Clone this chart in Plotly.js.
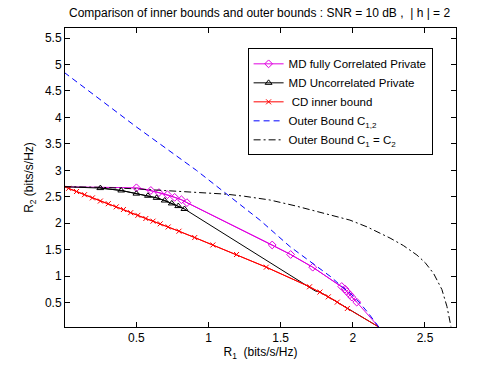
<!DOCTYPE html>
<html>
<head>
<meta charset="utf-8">
<script src="https://cdn.plot.ly/plotly-3.0.1.min.js"></script>
<style>
  html, body { margin: 0; padding: 0; background: #fff; }
  #chart { width: 504px; height: 369px; }
</style>
</head>
<body>
<div id="chart"></div>
<script>
// MD fully correlated private (magenta diamonds)
var magStartX = [0], magStartY = [2.69];
var magX = [0.5, 0.6, 0.656, 0.715, 0.765, 0.812, 0.85, 1.441, 1.569, 1.722, 1.923, 1.946, 1.958, 1.98, 1.993, 2.027];
var magY = [2.67, 2.62, 2.58, 2.54, 2.49, 2.445, 2.39, 1.59, 1.41, 1.17, 0.805, 0.756, 0.71, 0.65, 0.605, 0.51];
var magEndX = [2.18], magEndY = [0.04];

// MD uncorrelated private (black triangles)
var blkStartX = [0], blkStartY = [2.69];
var blkX = [0.25, 0.395, 0.5, 0.58, 0.64, 0.696, 0.745, 0.79, 0.833];
var blkY = [2.665, 2.62, 2.56, 2.52, 2.48, 2.43, 2.375, 2.325, 2.27];
var blkEndX = [1.74, 1.772, 1.83, 1.892, 1.962, 2.18];
var blkEndY = [0.72, 0.70, 0.61, 0.51, 0.39, 0.04];

// CD inner bound (red crosses)
var redStartX = [0], redStartY = [2.69];
var redX = [0.03, 0.085, 0.14, 0.195, 0.25, 0.305, 0.36, 0.41, 0.46, 0.51, 0.565, 0.615, 0.665, 0.72, 0.795, 0.904, 1.03, 1.194, 1.40, 1.70, 1.772, 1.83, 1.892, 1.962];
var redY = [2.66, 2.60, 2.54, 2.48, 2.42, 2.37, 2.31, 2.26, 2.20, 2.15, 2.09, 2.04, 1.99, 1.93, 1.85, 1.73, 1.59, 1.41, 1.17, 0.80, 0.70, 0.61, 0.51, 0.39];
var redEndX = [2.18], redEndY = [0.04];

// Outer bound C_{1,2} (blue dashed)
var c12X = [0, 0.5, 0.916, 1.124, 1.356, 1.564, 1.726, 1.847, 1.923, 1.981, 2.05, 2.108, 2.18];
var c12Y = [4.85, 3.82, 3.0, 2.55, 2.06, 1.56, 1.226, 0.99, 0.805, 0.68, 0.49, 0.30, 0.04];

// Outer bound C1 = C2 (black dash-dot)
var c1X = [0, 0.25, 0.5, 0.75, 1.0, 1.124, 1.25, 1.425, 1.6, 1.7, 1.85, 1.98, 2.1, 2.258, 2.35, 2.444, 2.5, 2.56, 2.617, 2.652, 2.675, 2.68];
var c1Y = [2.69, 2.68, 2.65, 2.61, 2.57, 2.55, 2.51, 2.44, 2.33, 2.26, 2.16, 2.06, 1.93, 1.72, 1.58, 1.40, 1.26, 1.05, 0.75, 0.43, 0.12, 0.05];

var MAG = '#e000e0', BLK = '#000000', RED = '#ff0000', BLU = '#0000ff';

function full(a, b, c) { return a.concat(b, c); }

var traces = [
  { x: full(magStartX, magX, magEndX), y: full(magStartY, magY, magEndY), mode: 'lines',
    line: { color: MAG, width: 1 }, showlegend: false, hoverinfo: 'skip' },
  { x: magX, y: magY, mode: 'lines+markers', name: 'MD fully Correlated Private',
    line: { color: MAG, width: 1 },
    marker: { symbol: 'diamond-open', size: 6, color: MAG, line: { width: 1 } } },
  { x: full(blkStartX, blkX, blkEndX), y: full(blkStartY, blkY, blkEndY), mode: 'lines',
    line: { color: BLK, width: 1 }, showlegend: false, hoverinfo: 'skip' },
  { x: blkX, y: blkY, mode: 'lines+markers', name: 'MD Uncorrelated Private',
    line: { color: BLK, width: 1 },
    marker: { symbol: 'triangle-up-open', size: 6, color: BLK, line: { width: 1 } } },
  { x: full(redStartX, redX, redEndX), y: full(redStartY, redY, redEndY), mode: 'lines',
    line: { color: RED, width: 1 }, showlegend: false, hoverinfo: 'skip' },
  { x: redX, y: redY, mode: 'lines+markers', name: ' CD inner bound',
    line: { color: RED, width: 1 },
    marker: { symbol: 'x-thin-open', size: 5, color: RED, line: { width: 1, color: RED } } },
  { x: c12X, y: c12Y, mode: 'lines', name: 'Outer Bound C<sub>1,2</sub>',
    line: { color: BLU, width: 1, dash: '6px,4px' } },
  { x: c1X, y: c1Y, mode: 'lines', name: 'Outer Bound C<sub>1</sub> = C<sub>2</sub>',
    line: { color: BLK, width: 1, dash: '7px,3px,2px,3px' } }
];

var axisBase = {
  showgrid: false, zeroline: false, showline: true, mirror: 'ticks',
  linecolor: '#000', linewidth: 1, ticks: 'inside', ticklen: 5, tickcolor: '#000',
  tick0: 0, dtick: 0.5, tickfont: { size: 12, color: '#000' }
};

var layout = {
  width: 504, height: 369,
  margin: { l: 65, r: 48, t: 28, b: 42 },
  paper_bgcolor: '#fff', plot_bgcolor: '#fff',
  font: { family: 'Liberation Sans, Arial, sans-serif', size: 12, color: '#000' },
  title: { text: 'Comparison of inner bounds and outer bounds : SNR = 10 dB ,  | h | = 2',
    x: 0.515, xanchor: 'center', y: 0.965, yanchor: 'middle', font: { size: 12 } },
  xaxis: Object.assign({}, axisBase, {
    range: [0.005, 2.715],
    title: { text: 'R<sub>1</sub>  (bits/s/Hz)', standoff: 3, font: { size: 12 } }
  }),
  yaxis: Object.assign({}, axisBase, {
    range: [0.04, 5.69],
    title: { text: 'R<sub>2</sub> (bits/s/Hz)', standoff: 8, font: { size: 12 } }
  }),
  legend: {
    x: 0.467, y: 0.932, xanchor: 'left', yanchor: 'top',
    bordercolor: '#000', borderwidth: 1, bgcolor: '#fff',
    font: { size: 11.5, color: '#000' }, itemwidth: 30
  },
  showlegend: true
};

Plotly.newPlot('chart', traces, layout, { staticPlot: true });
</script>
</body>
</html>
